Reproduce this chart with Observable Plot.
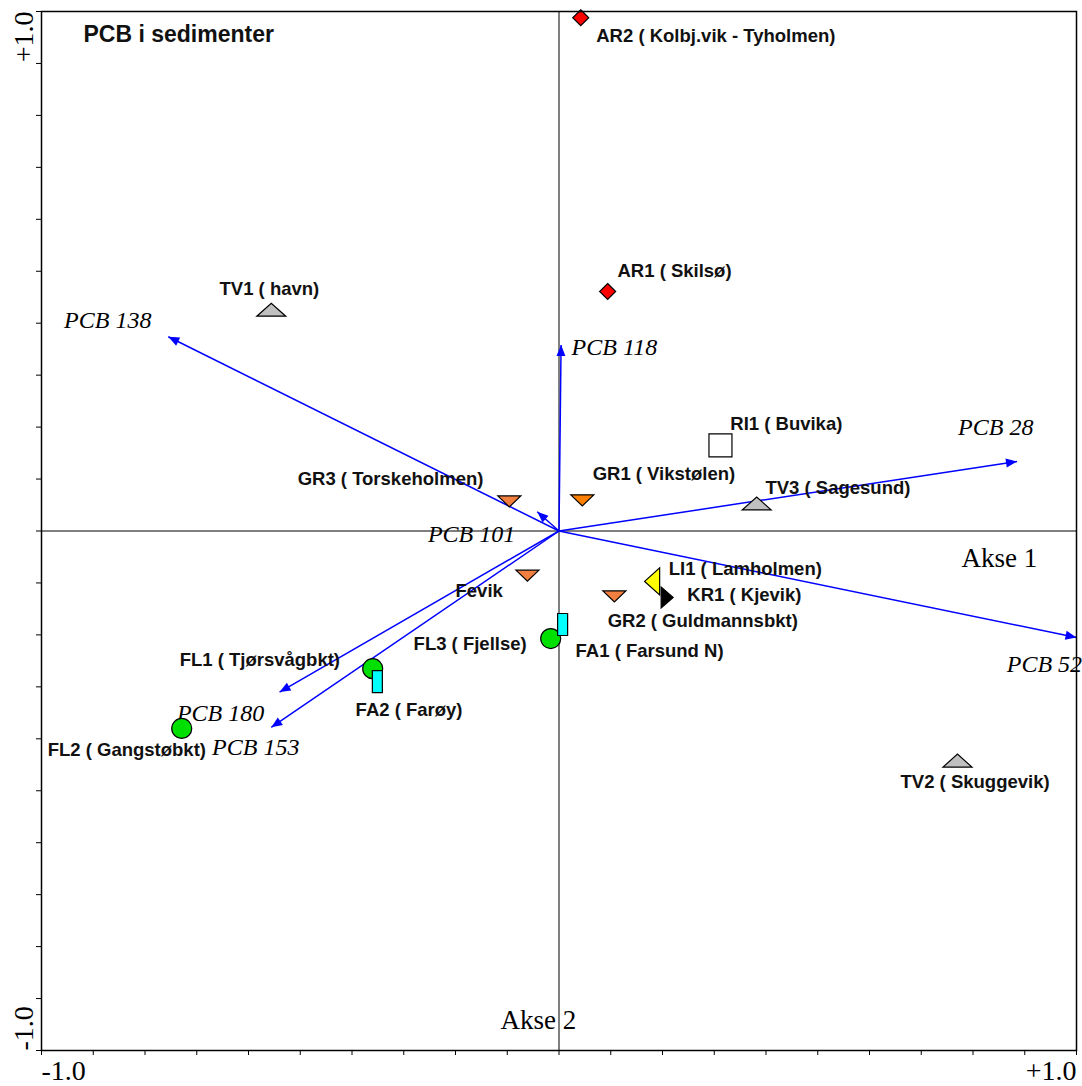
<!DOCTYPE html>
<html>
<head>
<meta charset="utf-8">
<script src="https://cdn.jsdelivr.net/npm/d3@7"></script>
<script src="https://cdn.jsdelivr.net/npm/@observablehq/plot@0.6"></script>
<style>
html,body{margin:0;padding:0;background:#fff;overflow:hidden}
#chart svg{display:block}
</style>
</head>
<body>
<div id="chart"></div>
<script>
// ---- Data ----
const title = "PCB i sedimenter";

const sites = ["AR2 ( Kolbj.vik - Tyholmen)", "AR1 ( Skilsø)", "TV1 ( havn)", "RI1 ( Buvika)",
  "GR1 ( Vikstølen)", "TV3 ( Sagesund)", "GR3 ( Torskeholmen)", "Fevik", "GR2 ( Guldmannsbkt)",
  "LI1 ( Lamholmen)", "KR1 ( Kjevik)", "FA1 ( Farsund N)", "FL3 ( Fjellse)", "FA2 ( Farøy)",
  "FL1 ( Tjørsvågbkt)", "FL2 ( Gangstøbkt)", "TV2 ( Skuggevik)"];
const siteGroup = ["AR", "AR", "TV", "RI", "GR1", "TV", "GR", "GR", "GR", "LI", "KR", "FA", "FL", "FA", "FL", "FL", "TV"];
const siteX = [0.042, 0.094, -0.556, 0.312, 0.045, 0.382, -0.096, -0.061, 0.107, 0.180, 0.209, 0.007, -0.016, -0.351, -0.360, -0.729, 0.770];
const siteY = [0.988, 0.461, 0.426, 0.165, 0.059, 0.053, 0.057, -0.086, -0.126, -0.097, -0.128, -0.180, -0.207, -0.290, -0.265, -0.380, -0.442];
const siteLabelX = [0.072, 0.113, -0.656, 0.331, 0.065, 0.399, -0.505, -0.200, 0.094, 0.212, 0.248, 0.032, -0.281, -0.393, -0.733, -0.988, 0.660];
const siteLabelY = [0.952, 0.501, 0.465, 0.205, 0.109, 0.082, 0.099, -0.115, -0.174, -0.074, -0.124, -0.232, -0.218, -0.345, -0.249, -0.421, -0.484];

const variables = ["PCB 138", "PCB 118", "PCB 28", "PCB 52", "PCB 101", "PCB 180", "PCB 153"];
const varX = [-0.755, 0.004, 0.885, 1.0, -0.042, -0.540, -0.556];
const varY = [0.374, 0.358, 0.134, -0.205, 0.037, -0.310, -0.378];
const varLabelX = [-0.872, 0.107, 0.844, 0.938, -0.169, -0.654, -0.586];
const varLabelY = [0.405, 0.353, 0.199, -0.257, -0.007, -0.351, -0.417];

const axisNames = ["Akse 1", "Akse 2"];
const axisNameX = [0.851, -0.040];
const axisNameY = [-0.053, -0.942];

const tickValues = d3.range(-10, 11).map(d => d / 10);
const tickLabels = ["-1.0", "+1.0"];

// ---- Styles ----
const poly = pts => ({
  draw(ctx, size) {
    const s = Math.sqrt(size / Math.PI);
    pts.forEach(([a, b], i) => i ? ctx.lineTo(a * s, b * s) : ctx.moveTo(a * s, b * s));
    ctx.closePath();
  }
});
const groupStyle = {
  AR:  {symbol: poly([[0, -8], [8, 0], [0, 8], [-8, 0]]), r: 1, fill: "#ff0000"},
  TV:  {symbol: poly([[-14.5, 6.5], [14.5, 6.5], [0, -6.5]]), r: 1, fill: "#c0c0c0"},
  RI:  {symbol: poly([[-11.5, -11.5], [11.5, -11.5], [11.5, 11.5], [-11.5, 11.5]]), r: 1, fill: "#ffffff"},
  GR1: {symbol: poly([[-11.5, -5.5], [11.5, -5.5], [0, 5.5]]), r: 1, fill: "#ff8000"},
  GR:  {symbol: poly([[-11.5, -5.5], [11.5, -5.5], [0, 5.5]]), r: 1, fill: "#f07f40"},
  LI:  {symbol: poly([[-7.5, 0], [7.5, -13.5], [7.5, 13.5]]), r: 1, fill: "#ffff00"},
  KR:  {symbol: poly([[6, 0], [-6, -10.5], [-6, 10.5]]), r: 1, fill: "#000000"},
  FL:  {symbol: "circle", r: 10, fill: "#00e000"},
  FA:  {symbol: poly([[-5, -11], [5, -11], [5, 11], [-5, 11]]), r: 1, fill: "#00ffff"}
};
const drawOrder = ["AR", "TV", "RI", "GR1", "GR", "LI", "KR", "FL", "FA"];

const serif = "'Liberation Serif', 'Times New Roman', serif";
const sans = "'Liberation Sans', Arial, sans-serif";
const blue = "#0000ff";

const sIdx = d3.range(sites.length);
const vIdx = d3.range(variables.length);

const arrowHead = (color) => {
  const m = d3.create("svg:marker")
    .attr("viewBox", "-12 -6 13 12")
    .attr("markerWidth", 13).attr("markerHeight", 12)
    .attr("markerUnits", "userSpaceOnUse")
    .attr("refX", 0).attr("refY", 0)
    .attr("orient", "auto")
    .attr("fill", color).attr("stroke", "none");
  m.append("path").attr("d", "M-11,-4.5L0,0L-11,4.5Z");
  return m.node();
};

function build(customMarker) {
  const arrowMark = customMarker
    ? Plot.link(vIdx, {x1: 0, y1: 0, x2: i => varX[i], y2: i => varY[i], stroke: blue, strokeWidth: 1.5, markerEnd: arrowHead})
    : Plot.arrow(vIdx, {x1: 0, y1: 0, x2: i => varX[i], y2: i => varY[i], stroke: blue, strokeWidth: 1.5, headLength: 10, headAngle: 45});
  return Plot.plot({
    width: 1082,
    height: 1086,
    marginLeft: 41,
    marginRight: 6,
    marginTop: 11,
    marginBottom: 36,
    style: {background: "#ffffff", fontFamily: sans},
    x: {domain: [-1, 1], ticks: tickValues, tickSize: 5, tickFormat: () => "", label: null},
    y: {domain: [-1, 1], ticks: tickValues, tickSize: 5, tickFormat: () => "", label: null},
    marks: [
      Plot.ruleX([0], {stroke: "#000", strokeWidth: 1}),
      Plot.ruleY([0], {stroke: "#000", strokeWidth: 1}),
      arrowMark,
      Plot.text(vIdx, {x: i => varLabelX[i], y: i => varLabelY[i], text: i => variables[i],
        fontFamily: serif, fontStyle: "italic", fontSize: 24, fill: "#000", lineAnchor: "middle"}),
      Plot.text(d3.range(axisNames.length), {x: i => axisNameX[i], y: i => axisNameY[i], text: i => axisNames[i],
        fontFamily: serif, fontSize: 27, fill: "#000", lineAnchor: "middle"}),
      ...drawOrder.map(g => Plot.dot(sIdx.filter(i => siteGroup[i] === g), {
        x: i => siteX[i], y: i => siteY[i],
        symbol: groupStyle[g].symbol, r: groupStyle[g].r,
        fill: groupStyle[g].fill, stroke: "#000", strokeWidth: 1.2
      })),
      Plot.text(sIdx, {x: i => siteLabelX[i], y: i => siteLabelY[i], text: i => sites[i],
        textAnchor: "start", lineAnchor: "middle", fontFamily: sans, fontWeight: "bold", fontSize: 18.5, fill: "#111"}),
      Plot.text([title], {frameAnchor: "top-left", dx: 42, dy: 23, textAnchor: "start", lineAnchor: "middle",
        fontFamily: sans, fontWeight: "bold", fontSize: 23, fill: "#111"}),
      // axis end labels
      Plot.text([tickLabels[0]], {x: -1, frameAnchor: "bottom", textAnchor: "start", lineAnchor: "middle", dy: 21, fontFamily: serif, fontSize: 28, fill: "#000"}),
      Plot.text([tickLabels[1]], {x: 1, frameAnchor: "bottom", textAnchor: "end", lineAnchor: "middle", dy: 21, fontFamily: serif, fontSize: 28, fill: "#000"}),
      Plot.text([tickLabels[1]], {y: 1, frameAnchor: "left", rotate: -90, textAnchor: "end", lineAnchor: "middle", dx: -17, fontFamily: serif, fontSize: 28, fill: "#000"}),
      Plot.text([tickLabels[0]], {y: -1, frameAnchor: "left", rotate: -90, textAnchor: "start", lineAnchor: "middle", dx: -17, fontFamily: serif, fontSize: 28, fill: "#000"}),
      Plot.frame({stroke: "#000", strokeWidth: 1.5})
    ]
  });
}

let chart;
try { chart = build(true); } catch (e) { chart = build(false); }
document.getElementById("chart").append(chart);
</script>
</body>
</html>
